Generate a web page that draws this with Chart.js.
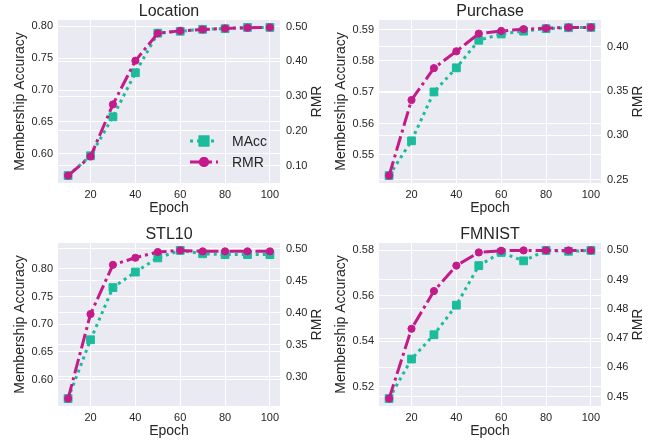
<!DOCTYPE html>
<html>
<head>
<meta charset="utf-8">
<script src="https://cdn.jsdelivr.net/npm/chart.js@4.4.1/dist/chart.umd.min.js"></script>
<style>
  html, body { margin: 0; padding: 0; background: #fff; overflow: hidden; }
  body { width: 668px; height: 444px; position: relative; }
  .panel { position: absolute; width: 334px; height: 222px; }
</style>
</head>
<body>
<div class="panel" style="left:0;top:0"><canvas id="c0" width="334" height="222"></canvas></div>
<div class="panel" style="left:321px;top:0"><canvas id="c1" width="334" height="222"></canvas></div>
<div class="panel" style="left:0;top:223px"><canvas id="c2" width="334" height="222"></canvas></div>
<div class="panel" style="left:321px;top:223px"><canvas id="c3" width="334" height="222"></canvas></div>
<script>
// data
const epochs = [10, 20, 30, 40, 50, 60, 70, 80, 90, 100];
const xTicks = [20, 40, 60, 80, 100];

const maccLocation = [0.566, 0.597, 0.658, 0.727, 0.789, 0.792, 0.795, 0.796, 0.798, 0.798];
const rmrLocation  = [0.071, 0.126, 0.276, 0.402, 0.481, 0.488, 0.492, 0.495, 0.497, 0.498];
const maccPurchase = [0.5434, 0.5545, 0.5701, 0.5778, 0.5866, 0.5886, 0.5895, 0.5903, 0.5906, 0.5907];
const rmrPurchase  = [0.2546, 0.340, 0.376, 0.395, 0.415, 0.418, 0.420, 0.421, 0.422, 0.422];
const maccStl10    = [0.566, 0.672, 0.766, 0.794, 0.8195, 0.833, 0.827, 0.8255, 0.8255, 0.8255];
const rmrStl10     = [0.266, 0.398, 0.475, 0.486, 0.495, 0.4975, 0.496, 0.496, 0.496, 0.496];
const maccFmnist   = [0.5148, 0.5322, 0.5429, 0.5559, 0.5733, 0.5791, 0.5754, 0.5800, 0.5796, 0.5800];
const rmrFmnist    = [0.4493, 0.4732, 0.4861, 0.4948, 0.4993, 0.4999, 0.5000, 0.5000, 0.5000, 0.5000];

const maccTicksLocation = [0.60, 0.65, 0.70, 0.75, 0.80];
const rmrTicksLocation  = [0.10, 0.20, 0.30, 0.40, 0.50];
const maccTicksPurchase = [0.55, 0.56, 0.57, 0.58, 0.59];
const rmrTicksPurchase  = [0.25, 0.30, 0.35, 0.40];
const maccTicksStl10    = [0.60, 0.65, 0.70, 0.75, 0.80];
const rmrTicksStl10     = [0.30, 0.35, 0.40, 0.45, 0.50];
const maccTicksFmnist   = [0.52, 0.54, 0.56, 0.58];
const rmrTicksFmnist    = [0.45, 0.46, 0.47, 0.48, 0.49, 0.50];

const TEAL = '#1abc9c';
const MAGENTA = '#c51b8a';
const TEXT = '#262626';
const FONT = "'Liberation Sans', Arial, sans-serif";

Chart.defaults.font.family = FONT;
Chart.defaults.color = TEXT;

// matplotlib style 5% margins
function limits(arr) {
    var lo = Math.min.apply(null, arr), hi = Math.max.apply(null, arr);
    var m = (hi - lo) * 0.05;
    return { min: lo - m, max: hi + m };
}

// background, title, right-axis label and legend
const decor = {
    id: 'decor',
    beforeDraw: function (chart) {
        var a = chart.chartArea, ctx = chart.ctx;
        ctx.save();
        ctx.fillStyle = '#eaeaf2';
        ctx.fillRect(a.left, a.top, a.right - a.left, a.bottom - a.top);
        ctx.restore();
    },
    afterDraw: function (chart, args, opts) {
        var a = chart.chartArea, ctx = chart.ctx;
        ctx.save();
        ctx.fillStyle = TEXT;
        ctx.textAlign = 'center';
        ctx.textBaseline = 'alphabetic';
        ctx.font = '16px ' + FONT;
        ctx.fillText(opts.title, (a.left + a.right) / 2, 16);

        ctx.font = '14px ' + FONT;
        ctx.textBaseline = 'middle';
        ctx.translate(a.right + 37, (a.top + a.bottom) / 2);
        ctx.rotate(-Math.PI / 2);
        ctx.fillText('RMR', 0, 0);
        ctx.restore();

        if (opts.legend) {
            var ds = chart.data.datasets;
            var rows = [ds[0], ds[1]];
            rows.forEach(function (d, i) {
                var y = a.bottom - 42 + i * 21;
                var x0 = a.right - 90, x1 = a.right - 62;
                ctx.save();
                ctx.strokeStyle = d.borderColor;
                ctx.lineWidth = d.borderWidth;
                ctx.setLineDash(d.borderDash);
                ctx.beginPath();
                ctx.moveTo(x0, y);
                ctx.lineTo(x1, y);
                ctx.stroke();
                ctx.setLineDash([]);
                ctx.fillStyle = d.borderColor;
                Chart.helpers.drawPoint(ctx, {
                    pointStyle: d.pointStyle, radius: d.pointRadius, borderWidth: 1
                }, (x0 + x1) / 2, y);
                ctx.fill();
                ctx.stroke();
                ctx.fillStyle = TEXT;
                ctx.font = '14px ' + FONT;
                ctx.textAlign = 'left';
                ctx.textBaseline = 'middle';
                ctx.fillText(d.label, a.right - 48, y + 1);
                ctx.restore();
            });
        }
    }
};

function makeChart(id, title, macc, rmr, maccTicks, rmrTicks, legend) {
    var xl = limits(epochs), ml = limits(macc), rl = limits(rmr);
    var tickFont = { size: 11 };
    return new Chart(document.getElementById(id), {
        type: 'line',
        data: {
            labels: epochs,
            datasets: [{
                label: 'MAcc',
                data: macc,
                yAxisID: 'y',
                order: 1,
                borderColor: TEAL,
                backgroundColor: TEAL,
                borderWidth: 3,
                borderDash: [3, 4],
                pointStyle: 'rect',
                pointRadius: 5.5,
                pointBorderWidth: 1,
                tension: 0
            }, {
                label: 'RMR',
                data: rmr,
                yAxisID: 'y1',
                order: 0,
                borderColor: MAGENTA,
                backgroundColor: MAGENTA,
                borderWidth: 3,
                borderDash: [15, 4, 3, 4],
                pointStyle: 'circle',
                pointRadius: 3.6,
                pointBorderWidth: 1,
                tension: 0
            }]
        },
        options: {
            responsive: false,
            animation: false,
            devicePixelRatio: 1,
            layout: { padding: { top: 20, left: 0, right: 0, bottom: 0 } },
            plugins: {
                legend: { display: false },
                tooltip: { enabled: false },
                decor: { title: title, legend: legend }
            },
            scales: {
                x: {
                    type: 'linear',
                    min: xl.min, max: xl.max,
                    afterBuildTicks: function (s) { s.ticks = xTicks.map(function (v) { return { value: v }; }); },
                    afterFit: function (s) { s.height = 39; },
                    grid: { color: '#ffffff', lineWidth: 1, drawTicks: false },
                    border: { display: false },
                    ticks: { font: tickFont, padding: 5, color: TEXT, maxRotation: 0 },
                    title: { display: true, text: 'Epoch', font: { size: 14 }, color: TEXT, padding: { top: 0, bottom: 5 } }
                },
                y: {
                    position: 'left',
                    min: ml.min, max: ml.max,
                    afterBuildTicks: function (s) { s.ticks = maccTicks.map(function (v) { return { value: v }; }); },
                    afterFit: function (s) { s.width = 58; },
                    grid: { color: '#ffffff', lineWidth: 1, drawTicks: false },
                    border: { display: false },
                    ticks: { font: tickFont, padding: 5, color: TEXT, callback: function (v) { return v.toFixed(2); } },
                    title: { display: true, text: 'Membership Accuracy', font: { size: 14 }, color: TEXT, padding: { top: 12, bottom: 0 } }
                },
                y1: {
                    position: 'right',
                    min: rl.min, max: rl.max,
                    afterBuildTicks: function (s) { s.ticks = rmrTicks.map(function (v) { return { value: v }; }); },
                    afterFit: function (s) { s.width = 54; },
                    grid: { color: '#ffffff', lineWidth: 1, drawTicks: false },
                    border: { display: false },
                    ticks: { font: tickFont, padding: 6, color: TEXT, callback: function (v) { return v.toFixed(2); } }
                }
            }
        },
        plugins: [decor]
    });
}

makeChart('c0', 'Location', maccLocation, rmrLocation, maccTicksLocation, rmrTicksLocation, true);
makeChart('c1', 'Purchase', maccPurchase, rmrPurchase, maccTicksPurchase, rmrTicksPurchase, false);
makeChart('c2', 'STL10', maccStl10, rmrStl10, maccTicksStl10, rmrTicksStl10, false);
makeChart('c3', 'FMNIST', maccFmnist, rmrFmnist, maccTicksFmnist, rmrTicksFmnist, false);
</script>
</body>
</html>
